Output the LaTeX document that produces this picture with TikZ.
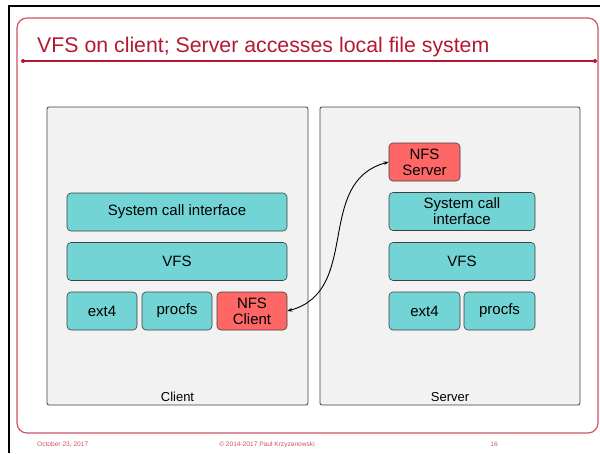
\documentclass[tikz,border=0pt]{standalone}
\usepackage{fontspec}
\setmainfont{Liberation Sans}
\usetikzlibrary{arrows.meta}

\definecolor{slidered}{RGB}{181,24,48}
\definecolor{framered}{RGB}{204,84,100}
\definecolor{layerfill}{RGB}{114,212,212}
\definecolor{nfsfill}{RGB}{255,102,102}
\definecolor{panelfill}{RGB}{242,242,242}

\tikzset{
    panel/.style={draw=black!75, fill=panelfill, rounded corners=2pt, line width=0.8pt},
    layer/.style={draw=black!75, fill=layerfill, rounded corners=4pt, line width=0.6pt,
        minimum height=38pt, align=center, inner sep=1pt, font=\fontsize{15}{16}\selectfont},
    nfs/.style={layer, fill=nfsfill},
    panellabel/.style={font=\fontsize{13}{14}\selectfont, inner sep=4pt},
    footer/.style={text=framered, font=\fontsize{6.6}{7}\selectfont, inner sep=0pt}
}

\begin{document}
\begin{tikzpicture}[x=1pt, y=-1pt]
    \useasboundingbox (0,0) rectangle (600,453);
    \draw[line width=2pt] (9,453) |- (600,6);
    \draw[framered, line width=1.2pt, rounded corners=10pt] (17,18) -- (598,18) -- (598,433) -- (17,433) -- cycle;
    \node[anchor=base west, text=slidered, inner sep=0pt, font=\fontsize{21.3}{24}\selectfont] (title) at (37,52.5) {VFS on client; Server accesses local file system};
    \draw[slidered, line width=1.2pt] (23,61) -- (595,61);
    \fill[slidered] (23,61) circle(2) (595,61) circle(2);

    \node[panel, minimum width=261pt, minimum height=298pt] (client) at (177.5,256) {};
    \node[panellabel, above] (clientlabel) at (client.south) {Client};
    \node[panel, minimum width=260pt, minimum height=298pt] (server) at (450,256) {};
    \node[panellabel, above] (serverlabel) at (server.south) {Server};

    \node[layer, minimum width=220pt] (csci) at (177,212) {System call interface};
    \node[layer, minimum width=220pt] (cvfs) at (177,261.5) {VFS};
    \node[layer, minimum width=70pt] (cext) at (102,311) {ext4};
    \node[layer, minimum width=70pt] (cproc) at (177,311) {procfs};
    \node[nfs, minimum width=70pt] (nfsc) at (252,311) {NFS\\Client};

    \node[nfs, minimum width=71pt] (nfss) at (424.5,162) {NFS\\Server};
    \node[layer, minimum width=146pt] (ssci) at (462,211.5) {System call\\interface};
    \node[layer, minimum width=146pt] (svfs) at (462,261.5) {VFS};
    \node[layer, minimum width=71pt] (sext) at (424.5,311) {ext4};
    \node[layer, minimum width=71pt] (sproc) at (499.5,311) {procfs};

    \draw[{Stealth[length=5pt]}-{Stealth[length=5pt]}, line width=0.9pt] (nfsc.east) to[out=15, in=195, looseness=1.1] (nfss.west);

    \node[footer, anchor=base west] (date) at (37,446) {October 23, 2017};
    \node[footer, anchor=base] (copy) at (267,446) {\textcopyright{} 2014-2017 Paul Krzyzanowski};
    \node[footer, anchor=base] (page) at (494,446) {16};
\end{tikzpicture}
\end{document}
